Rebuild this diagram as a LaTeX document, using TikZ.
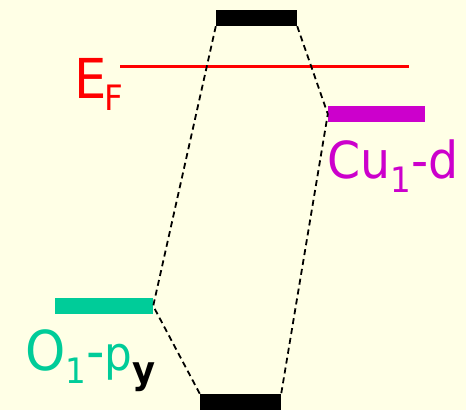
\documentclass[tikz,border=0pt]{standalone}
\usepackage{fontspec}
\setmainfont[FakeStretch=0.93]{DejaVu Sans}
\definecolor{bgYellow}{RGB}{255,255,230}
\definecolor{fermiRed}{RGB}{255,0,0}
\definecolor{cuMagenta}{RGB}{204,0,204}
\definecolor{oTeal}{RGB}{0,204,153}
\newcommand{\fsz}[1]{\fontsize{#1}{#1}\selectfont}

\begin{document}
\begin{tikzpicture}[x=1pt, y=-1pt,
    level/.style={rectangle, inner sep=0pt, minimum width=81pt, minimum height=16pt},
    mix/.style={dash pattern=on 6pt off 4pt, line width=1.8pt},
    lbl/.style={inner sep=0pt, anchor=base west}
  ]
  % Background
  \fill[bgYellow] (0,0) rectangle (466,410);
  \useasboundingbox (0,0) rectangle (466,410);
  % Fermi level
  \draw[fermiRed, line width=3pt] (120,66) -- (409,66);
  \node[lbl, text=fermiRed] (ef) at (74,98)
    {\fsz{55}E\kern-2pt\raisebox{-12pt}{\fsz{35}F}};
  % Energy levels
  \node[level, fill=black] (anti) at (256.5,18) {};
  \node[level, fill=cuMagenta, minimum width=97pt] (cud) at (376.5,114) {};
  \node[level, fill=oTeal, minimum width=98pt] (opy) at (104,306) {};
  \node[level, fill=black] (bond) at (240.5,402) {};
  % Labels
  \node[lbl, text=cuMagenta] (cul) at (327,178)
    {\fsz{51}Cu\raisebox{-14pt}{\fsz{35}1}-d};
  \node[lbl, text=oTeal] (ol) at (25,370)
    {\fsz{55}O\raisebox{-13pt}{\fsz{35}1}-{\fsz{47}p}\raisebox{-13pt}{\fsz{38}\bfseries\color{black}y}};
  % Mixing lines
  \draw[mix] (anti.south west) -- (opy.east) -- (bond.north west);
  \draw[mix] (anti.south east) -- (cud.west) -- (bond.north east);
\end{tikzpicture}
\end{document}
